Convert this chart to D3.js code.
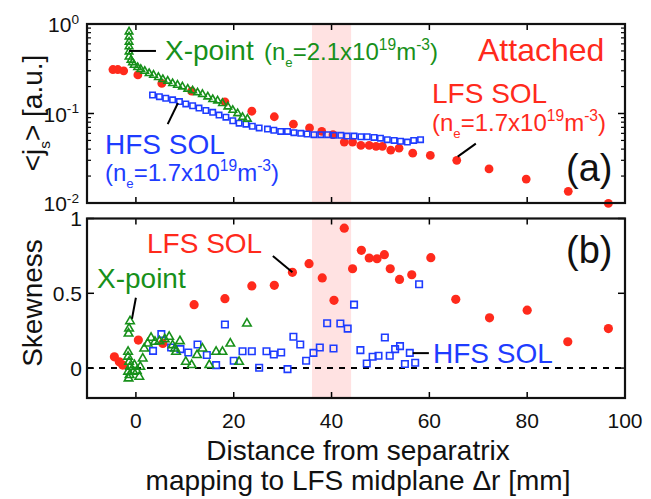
<!DOCTYPE html>
<html><head><meta charset="utf-8">
<script src="https://cdn.jsdelivr.net/npm/d3@7"></script>
<style>
body{margin:0;background:#fff}
svg{display:block}
text{font-family:"Liberation Sans",Arial,Helvetica,sans-serif}
</style>
</head><body>
<svg id="chart" width="651" height="499"></svg>
<script>
// ---- data: distance from separatrix [mm] and measured quantities ----
const xTicks = [0, 20, 40, 60, 80, 100];
const fluxDecades = [0, -1, -2];
const skewTicks = [0, 0.5, 1];
const highlightBand = [36, 44];

// (a) mean ion saturation current <j_s>
const lfsFluxX = [-4.7, -3.7, -2.5, 0.4, 5.3, 11.4, 18.2, 23.7, 28.3, 32.2, 35.5, 38.0, 40.3, 42.6, 44.3, 46.0, 47.7, 49.1, 50.4, 52.1, 53.8, 56.6, 60.2, 65.6, 72.2, 79.8, 88.4, 96.6];
const lfsFluxY = [0.31, 0.31, 0.30, 0.27, 0.217, 0.178, 0.135, 0.106, 0.092, 0.076, 0.069, 0.063, 0.058, 0.048, 0.048, 0.044, 0.044, 0.043, 0.043, 0.039, 0.041, 0.036, 0.034, 0.030, 0.024, 0.0185, 0.0135, 0.0099];

const hfsFluxX = [3.4, 4.8, 6.1, 7.5, 8.9, 10.2, 11.6, 12.9, 14.3, 15.7, 17.0, 18.4, 19.8, 21.1, 22.5, 23.8, 25.2, 26.9, 28.2, 29.6, 31.0, 32.3, 33.7, 35.0, 36.4, 37.8, 39.2, 40.5, 41.9, 43.2, 44.6, 46.0, 47.3, 48.7, 50.0, 51.4, 52.8, 54.1, 55.5, 56.8, 58.2];
const hfsFluxY = [0.161, 0.154, 0.148, 0.142, 0.136, 0.128, 0.122, 0.115, 0.108, 0.103, 0.096, 0.091, 0.083, 0.078, 0.076, 0.072, 0.069, 0.067, 0.065, 0.063, 0.063, 0.061, 0.060, 0.059, 0.058, 0.058, 0.058, 0.057, 0.057, 0.056, 0.056, 0.055, 0.055, 0.054, 0.053, 0.051, 0.050, 0.049, 0.048, 0.050, 0.051];

const xptFluxX = [-1.4, -1.4, -1.4, -1.4, -1.4, -1.4, -1.0, -0.7, -0.35, 0.35, 1.0, 1.8, 2.7, 3.6, 4.6, 5.5, 6.5, 7.5, 8.5, 9.5, 10.6, 11.6, 12.6, 13.6, 14.7, 15.7, 16.7, 17.7, 18.8, 19.8, 20.8, 21.8, 22.8];
const xptFluxY = [0.82, 0.72, 0.63, 0.56, 0.49, 0.43, 0.396, 0.370, 0.348, 0.328, 0.312, 0.298, 0.281, 0.269, 0.254, 0.241, 0.231, 0.217, 0.208, 0.199, 0.188, 0.180, 0.171, 0.164, 0.154, 0.144, 0.139, 0.130, 0.119, 0.109, 0.100, 0.091, 0.087];

// (b) skewness
const lfsSkewX = [-4.4, -3.4, -2.7, 0.5, 5.5, 11.9, 18.2, 23.7, 28.3, 32.0, 35.4, 38.1, 40.5, 42.6, 44.3, 46.1, 47.7, 49.3, 50.8, 52.0, 53.9, 56.4, 60.3, 65.4, 72.3, 80.0, 88.3, 96.6];
const lfsSkewY = [0.075, 0.042, 0.02, 0.187, 0.165, 0.424, 0.464, 0.549, 0.553, 0.640, 0.698, 0.603, 0.453, 0.935, 0.664, 0.787, 0.736, 0.731, 0.758, 0.664, 0.593, 0.624, 0.738, 0.46, 0.336, 0.387, 0.176, 0.264];

const hfsSkewX = [3.5, 5.2, 7.2, 9.1, 10.7, 12.6, 14.5, 16.4, 18.2, 20.0, 21.8, 23.7, 25.2, 26.7, 28.2, 29.7, 31.0, 32.2, 33.6, 34.8, 36.3, 37.6, 39.1, 40.4, 41.8, 43.3, 44.6, 45.9, 47.2, 48.4, 49.6, 50.9, 51.9, 53.0, 54.0, 55.0, 56.0, 57.1, 57.9];
const hfsSkewY = [0.115, 0.227, 0.138, 0.127, 0.104, 0.158, 0.087, 0.02, 0.291, 0.049, 0.113, 0.113, 0.002, 0.113, 0.091, 0.104, -0.007, 0.209, 0.158, 0.049, 0.102, 0.138, 0.300, 0.131, 0.298, 0.264, 0.424, 0.12, 0.031, 0.076, 0.082, 0.204, 0.082, 0.127, 0.147, 0.027, 0.102, 0.036, 0.56];

const xptSkewX = [-1.2, -1.4, -1.5, -1.6, -1.6, -1.4, -1.2, -1.6, -1.3, -1.5, -0.3, 0.2, 0.7, 1.4, 0.9, -0.5, 1.7, 2.4, 3.1, 3.9, 4.8, 5.9, 6.8, 7.5, 8.2, 8.0, 9.0, 10.2, 11.4, 12.5, 13.6, 15.0, 16.4, 17.7, 19.3, 21.1, 22.7];
const xptSkewY = [0.313, 0.264, 0.231, 0.109, 0.076, 0.042, 0.009, -0.024, -0.047, -0.069, 0.02, -0.02, -0.058, 0.064, 0.009, -0.024, 0.131, 0.164, 0.202, 0.176, 0.18, 0.193, 0.209, 0.153, 0.109, 0.131, 0.18, 0.042, 0.02, 0.087, 0.131, 0.02, 0.109, 0.109, 0.164, 0.042, 0.298];

const zip = (xs, ys) => xs.map((x, i) => [x, ys[i]]);

// ---- colours ----
const RED = "#ff2a1c", GREEN = "#17901a", BLUE = "#1e3cff", BAND = "#ffe2e2";

const svg = d3.select("#chart");
const L = 87, R = 625;
const topPanel = {t: 24, b: 203};
const botPanel = {t: 218.5, b: 398};

const x = d3.scaleLinear().domain([-10, 100]).range([L, R]);
const yFlux = d3.scaleLog().domain([0.01, 1]).range([topPanel.b, topPanel.t]);
const ySkew = d3.scaleLinear().domain([-0.2, 1]).range([botPanel.b, botPanel.t]);

// rich text with sub/superscripts
function rich(g, px, py, size, color, parts, anchor) {
  const t = g.append("text").attr("x", px).attr("y", py)
    .attr("font-size", size).attr("fill", color)
    .attr("text-anchor", anchor || "start");
  let shift = 0;
  parts.forEach(p => {
    const [str, kind] = Array.isArray(p) ? p : [p, null];
    const target = kind === "sub" ? size * 0.28 : kind === "sup" ? -size * 0.4 : 0;
    const fs = kind === "sub" ? size * 0.55 : kind === "sup" ? size * 0.65 : size;
    t.append("tspan").attr("dy", target - shift).attr("font-size", fs).text(str);
    shift = target;
  });
  return t;
}

function band(g, p) {
  g.append("rect")
    .attr("x", x(highlightBand[0])).attr("width", x(highlightBand[1]) - x(highlightBand[0]))
    .attr("y", p.t).attr("height", p.b - p.t)
    .attr("fill", BAND);
}

function xTickMarks(g, p) {
  xTicks.forEach(v => {
    g.append("line").attr("x1", x(v)).attr("x2", x(v)).attr("y1", p.b).attr("y2", p.b - 6)
      .attr("stroke", "#000").attr("stroke-width", 1.5);
    g.append("line").attr("x1", x(v)).attr("x2", x(v)).attr("y1", p.t).attr("y2", p.t + 6)
      .attr("stroke", "#000").attr("stroke-width", 1.5);
  });
}

function frame(g, p) {
  g.append("rect").attr("x", L).attr("y", p.t).attr("width", R - L).attr("height", p.b - p.t)
    .attr("fill", "none").attr("stroke", "#111").attr("stroke-width", 2.2);
}

const circleR = 4.6;
const tri = d3.symbol().type(d3.symbolTriangle);
const sq = d3.symbol().type(d3.symbolSquare);

function dots(g, data, ys, r) {
  g.selectAll(null).data(data).join("circle")
    .attr("cx", d => x(d[0])).attr("cy", d => ys(d[1])).attr("r", r)
    .attr("fill", RED);
}
function squares(g, data, ys, side) {
  g.selectAll(null).data(data).join("path")
    .attr("d", sq.size(side * side)())
    .attr("transform", d => `translate(${x(d[0])},${ys(d[1])})`)
    .attr("fill", "none").attr("stroke", BLUE).attr("stroke-width", 1.6);
}
function triangles(g, data, ys, side) {
  g.selectAll(null).data(data).join("path")
    .attr("d", tri.size(Math.sqrt(3) / 4 * side * side)())
    .attr("transform", d => `translate(${x(d[0])},${ys(d[1])})`)
    .attr("fill", "none").attr("stroke", GREEN).attr("stroke-width", 1.6);
}
function pointer(g, x1, y1, x2, y2) {
  g.append("line").attr("x1", x1).attr("y1", y1).attr("x2", x2).attr("y2", y2)
    .attr("stroke", "#000").attr("stroke-width", 2);
}

// ================= panel (a) =================
const ga = svg.append("g");
band(ga, topPanel);
dots(ga, zip(lfsFluxX, lfsFluxY), yFlux, 4.4);
squares(ga, zip(hfsFluxX, hfsFluxY), yFlux, 5.4);
triangles(ga, zip(xptFluxX, xptFluxY), yFlux, 7.5);

// log ticks on both sides
const minor = [];
[-2, -1].forEach(e => { for (let k = 2; k <= 9; k++) minor.push(k * Math.pow(10, e)); });
minor.forEach(v => {
  [[L, L + 4], [R, R - 4]].forEach(([a, b]) =>
    ga.append("line").attr("x1", a).attr("x2", b).attr("y1", yFlux(v)).attr("y2", yFlux(v))
      .attr("stroke", "#000").attr("stroke-width", 1.2));
});
fluxDecades.forEach(e => {
  const v = Math.pow(10, e);
  [[L, L + 7], [R, R - 7]].forEach(([a, b]) =>
    ga.append("line").attr("x1", a).attr("x2", b).attr("y1", yFlux(v)).attr("y2", yFlux(v))
      .attr("stroke", "#000").attr("stroke-width", 1.5));
  rich(ga, 79, yFlux(v) + 8, 21, "#111", ["10", [String(e), "sup"]], "end");
});
xTickMarks(ga, topPanel);
frame(ga, topPanel);

// annotations (a)
pointer(ga, x(-1.4), yFlux(0.5), x(4.1), yFlux(0.5));
ga.append("text").attr("x", 165).attr("y", 60).attr("font-size", 28).attr("fill", GREEN).text("X-point");
rich(ga, 264, 60, 24, GREEN, ["(n", ["e", "sub"], "=2.1x10", ["19", "sup"], "m", ["-3", "sup"], ")"]);
ga.append("text").attr("x", 478).attr("y", 61).attr("font-size", 32).attr("fill", RED).text("Attached");

pointer(ga, x(6.5), yFlux(0.076), x(8.6), yFlux(0.131));
ga.append("text").attr("x", 105).attr("y", 154).attr("font-size", 28).attr("fill", BLUE).text("HFS SOL");
rich(ga, 105, 181, 24, BLUE, ["(n", ["e", "sub"], "=1.7x10", ["19", "sup"], "m", ["-3", "sup"], ")"]);

pointer(ga, x(65.8), yFlux(0.033), x(69.5), yFlux(0.046));
ga.append("text").attr("x", 432).attr("y", 103).attr("font-size", 28).attr("fill", RED).text("LFS SOL");
rich(ga, 432, 131, 24, RED, ["(n", ["e", "sub"], "=1.7x10", ["19", "sup"], "m", ["-3", "sup"], ")"]);

ga.append("text").attr("x", 566).attr("y", 181).attr("font-size", 38).attr("fill", "#111").text("(a)");

rich(ga, 0, 0, 28, "#111", ["<j", ["s", "sub"], "> [a.u.]"], "middle")
  .attr("transform", "translate(42,113) rotate(-90)");

// ================= panel (b) =================
const gb = svg.append("g");
band(gb, botPanel);
gb.append("line").attr("x1", L).attr("x2", R).attr("y1", ySkew(0)).attr("y2", ySkew(0))
  .attr("stroke", "#000").attr("stroke-width", 2).attr("stroke-dasharray", "6,6");
dots(gb, zip(lfsSkewX, lfsSkewY), ySkew, circleR);
squares(gb, zip(hfsSkewX, hfsSkewY), ySkew, 6.5);
triangles(gb, zip(xptSkewX, xptSkewY), ySkew, 8.5);

skewTicks.forEach(v => {
  [[L, L + 7], [R, R - 7]].forEach(([a, b]) =>
    gb.append("line").attr("x1", a).attr("x2", b).attr("y1", ySkew(v)).attr("y2", ySkew(v))
      .attr("stroke", "#000").attr("stroke-width", 1.5));
  gb.append("text").attr("x", 82).attr("y", ySkew(v) + 7.5).attr("text-anchor", "end")
    .attr("font-size", 21).attr("fill", "#111").text(String(v));
});
xTickMarks(gb, botPanel);
frame(gb, botPanel);

// annotations (b)
pointer(gb, x(28.0), ySkew(0.75), x(32.0), ySkew(0.64));
gb.append("text").attr("x", 147).attr("y", 253).attr("font-size", 28).attr("fill", RED).text("LFS SOL");
pointer(gb, x(0.0), ySkew(0.47), x(-0.8), ySkew(0.33));
gb.append("text").attr("x", 97).attr("y", 288).attr("font-size", 28).attr("fill", GREEN).text("X-point");
pointer(gb, x(56.6), ySkew(0.10), x(59.9), ySkew(0.10));
gb.append("text").attr("x", 433).attr("y", 363).attr("font-size", 28).attr("fill", BLUE).text("HFS SOL");
gb.append("text").attr("x", 566).attr("y", 263).attr("font-size", 38).attr("fill", "#111").text("(b)");

gb.append("text").attr("transform", "translate(42,303) rotate(-90)").attr("text-anchor", "middle")
  .attr("font-size", 28).attr("fill", "#111").text("Skewness");

// x tick labels and axis title
xTicks.forEach(v => {
  svg.append("text").attr("x", x(v)).attr("y", 428).attr("text-anchor", "middle")
    .attr("font-size", 21).attr("fill", "#111").text(String(v));
});
svg.append("text").attr("x", 358).attr("y", 460).attr("text-anchor", "middle")
  .attr("font-size", 28).attr("fill", "#111").text("Distance from separatrix");
svg.append("text").attr("x", 358).attr("y", 490).attr("text-anchor", "middle")
  .attr("font-size", 28).attr("fill", "#111").text("mapping to LFS midplane \u0394r [mm]");
</script>
</body></html>
